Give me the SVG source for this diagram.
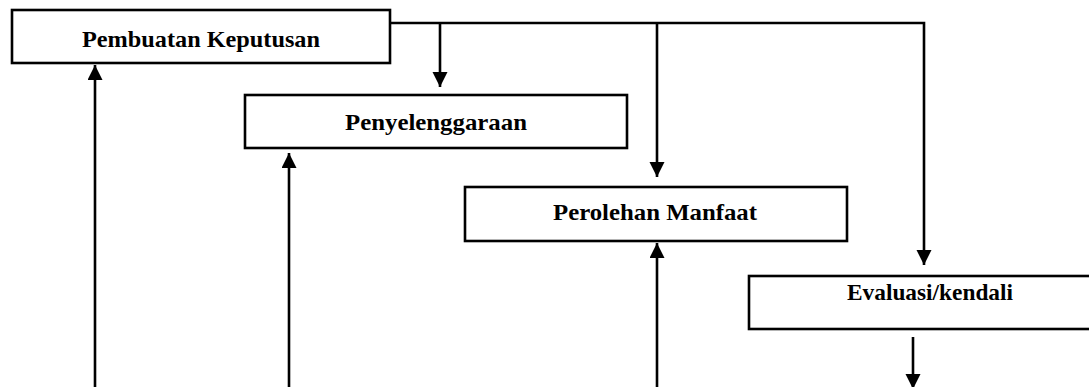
<svg xmlns="http://www.w3.org/2000/svg" width="1089" height="387" viewBox="0 0 1089 387">
<defs>
<style>
.box{fill:#fff;stroke:#000;stroke-width:2.6}
.lbl{font-family:"Liberation Serif","Times New Roman",serif;font-size:24px;font-weight:bold;fill:#000;text-anchor:middle}
.conn{fill:none;stroke:#000;stroke-width:2.6}
</style>
<marker id="ah" markerUnits="userSpaceOnUse" markerWidth="16" markerHeight="16" viewBox="0 0 16 16" refX="15" refY="7.5" orient="auto">
<path d="M0,0 L15,7.5 L0,15 z" fill="#000"/>
</marker>
</defs>
<rect width="1089" height="387" fill="#fff"/>
<g id="connectors">
<path class="conn" d="M390,23 H924 V265" marker-end="url(#ah)"/>
<path class="conn" d="M440,23 V87" marker-end="url(#ah)"/>
<path class="conn" d="M657,23 V177" marker-end="url(#ah)"/>
<path class="conn" d="M95,387 V65" marker-end="url(#ah)"/>
<path class="conn" d="M289,387 V153" marker-end="url(#ah)"/>
<path class="conn" d="M657,387 V243" marker-end="url(#ah)"/>
<path class="conn" d="M913,337 V389" marker-end="url(#ah)"/>
</g>
<g id="pembuatan">
<rect class="box" x="12" y="10" width="378" height="53"/>
<text class="lbl" x="201" y="47" textLength="238" lengthAdjust="spacingAndGlyphs">Pembuatan Keputusan</text>
</g>
<g id="penyelenggaraan">
<rect class="box" x="245" y="95" width="382" height="53"/>
<text class="lbl" x="436" y="130" textLength="182" lengthAdjust="spacingAndGlyphs">Penyelenggaraan</text>
</g>
<g id="perolehan">
<rect class="box" x="465" y="187" width="382" height="54"/>
<text class="lbl" x="655" y="220" textLength="204" lengthAdjust="spacingAndGlyphs">Perolehan Manfaat</text>
</g>
<g id="evaluasi">
<rect class="box" x="749" y="276" width="350" height="53"/>
<text class="lbl" x="930" y="300" textLength="166" lengthAdjust="spacingAndGlyphs">Evaluasi/kendali</text>
</g>
</svg>
